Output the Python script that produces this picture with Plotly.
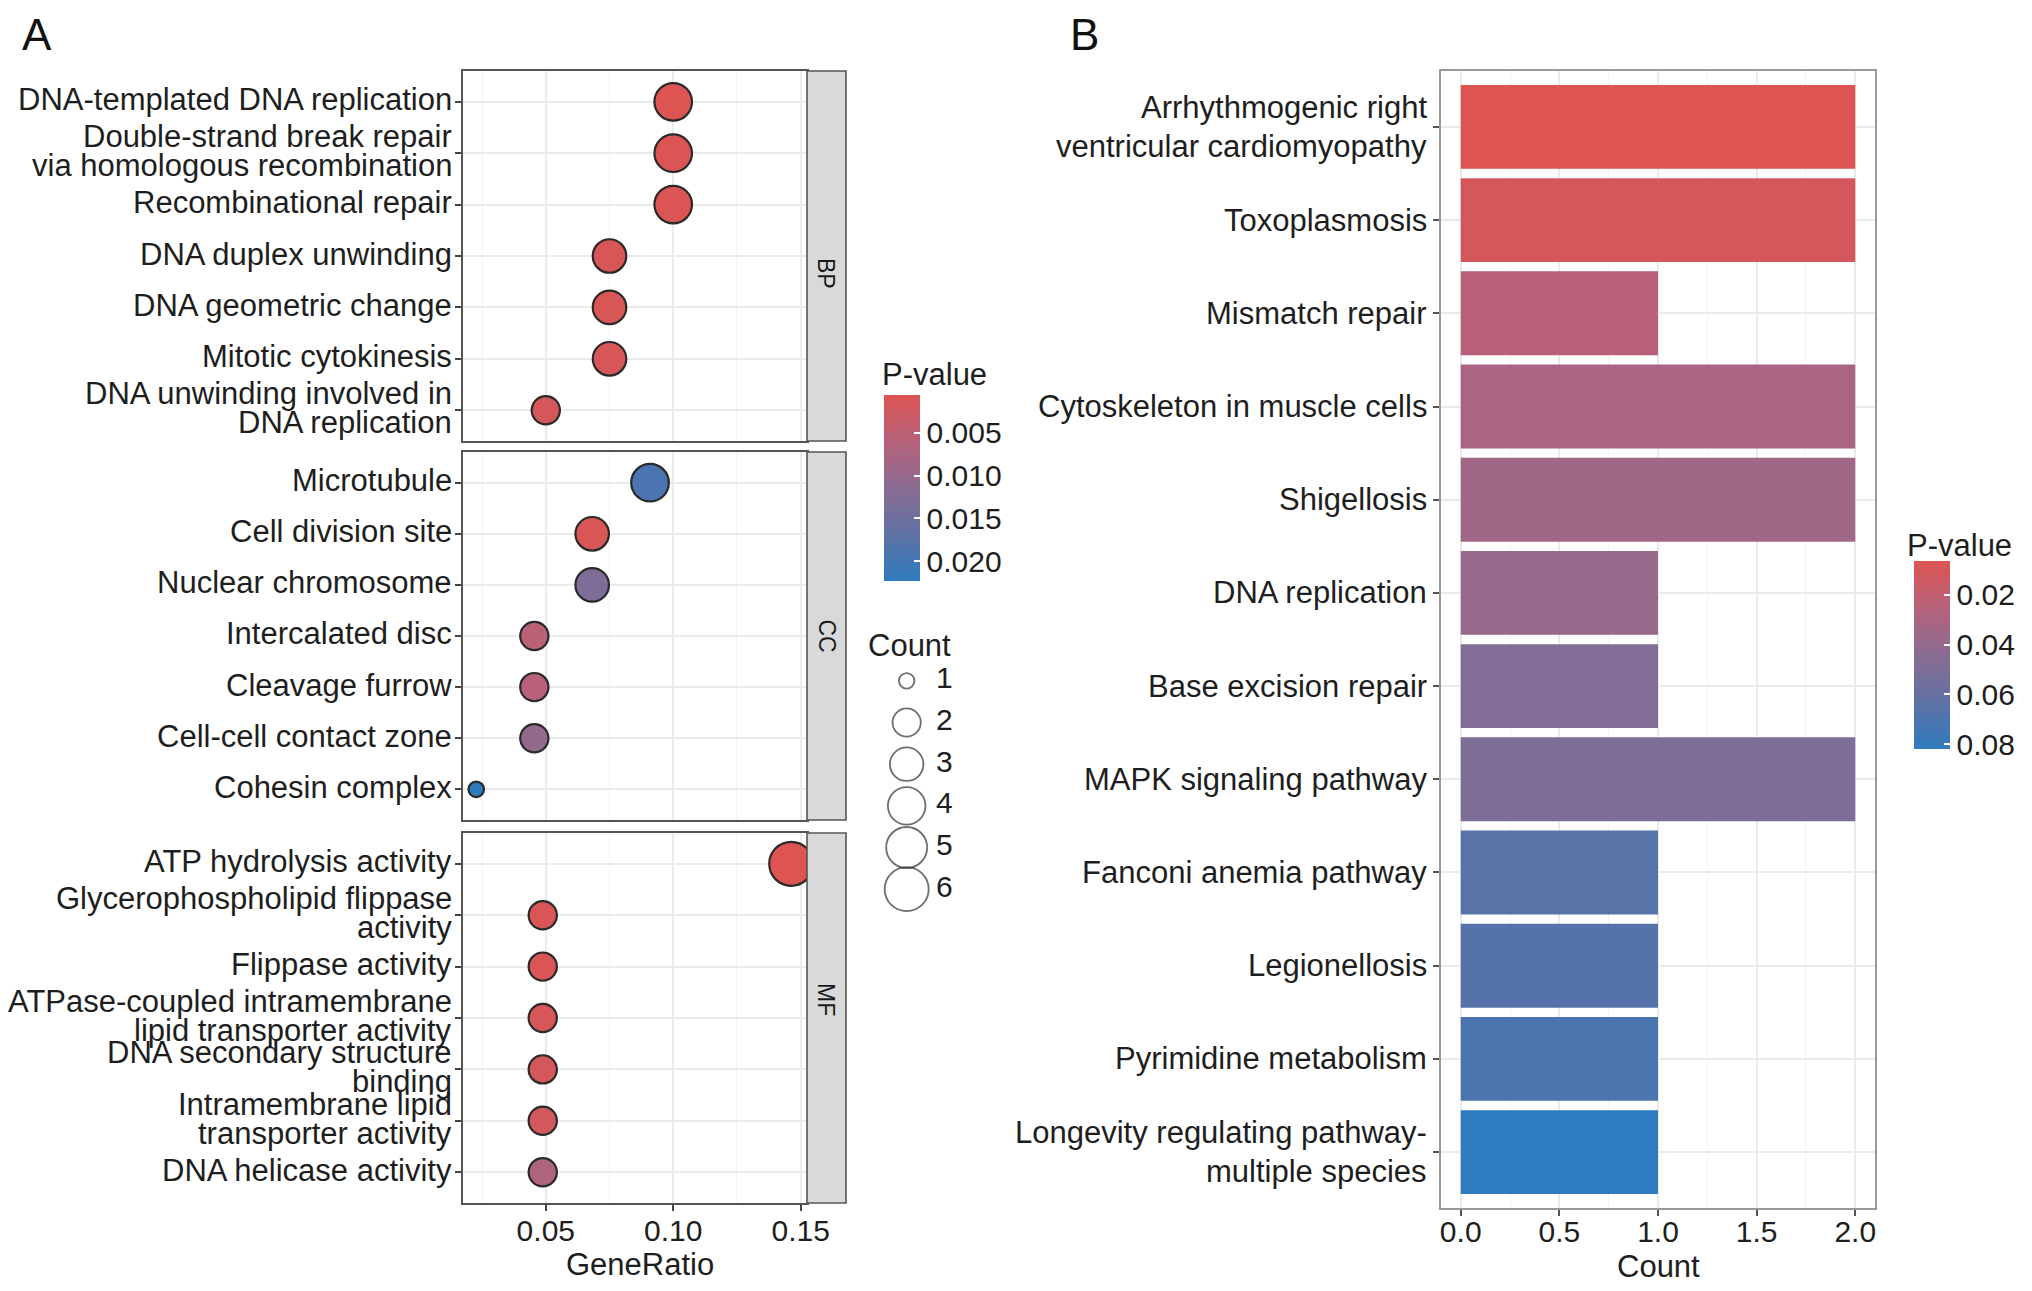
import math
import plotly.graph_objects as go

W, H = 2032, 1291
OFF = 8  # default page body margin
FW, FH = W - 2 * OFF, H - 2 * OFF

# ---------------- data: panel A (GO) ----------------
bp_terms = ["DNA-templated DNA replication",
            "Double-strand break repair<br>via homologous recombination",
            "Recombinational repair", "DNA duplex unwinding", "DNA geometric change",
            "Mitotic cytokinesis", "DNA unwinding involved in<br>DNA replication"]
bp_ratio = [0.100, 0.100, 0.100, 0.075, 0.075, 0.075, 0.050]
bp_count = [4, 4, 4, 3, 3, 3, 2]
bp_pval = [0.0008, 0.0009, 0.0009, 0.0011, 0.0012, 0.0013, 0.0016]

cc_terms = ["Microtubule", "Cell division site", "Nuclear chromosome", "Intercalated disc",
            "Cleavage furrow", "Cell-cell contact zone", "Cohesin complex"]
cc_ratio = [0.0909, 0.0682, 0.0682, 0.0455, 0.0455, 0.0455, 0.0227]
cc_count = [4, 3, 3, 2, 2, 2, 1]
cc_pval = [0.0192, 0.0012, 0.0130, 0.0055, 0.0058, 0.0105, 0.0223]

mf_terms = ["ATP hydrolysis activity", "Glycerophospholipid flippase<br>activity",
            "Flippase activity", "ATPase-coupled intramembrane<br>lipid transporter activity",
            "DNA secondary structure<br>binding", "Intramembrane lipid<br>transporter activity",
            "DNA helicase activity"]
mf_ratio = [0.1463, 0.0488, 0.0488, 0.0488, 0.0488, 0.0488, 0.0488]
mf_count = [6, 2, 2, 2, 2, 2, 2]
mf_pval = [0.0006, 0.0010, 0.0011, 0.0014, 0.0018, 0.0020, 0.0070]

ont_labels = ["BP", "CC", "MF"]
a_pval_range = [0.0006, 0.0223]
a_pval_ticks = [0.005, 0.010, 0.015, 0.020]
a_x_ticks = [0.05, 0.10, 0.15]
legend_counts = [1, 2, 3, 4, 5, 6]

# ---------------- data: panel B (KEGG) ----------------
kegg_terms = ["Arrhythmogenic right<br>ventricular cardiomyopathy", "Toxoplasmosis",
              "Mismatch repair", "Cytoskeleton in muscle cells", "Shigellosis",
              "DNA replication", "Base excision repair", "MAPK signaling pathway",
              "Fanconi anemia pathway", "Legionellosis", "Pyrimidine metabolism",
              "Longevity regulating pathway-<br>multiple species"]
kegg_count = [2, 2, 1, 2, 2, 1, 1, 2, 1, 1, 1, 1]
kegg_pval = [0.0064, 0.0110, 0.0245, 0.0310, 0.0345, 0.0380, 0.0480, 0.0500,
             0.0660, 0.0670, 0.0710, 0.0820]
b_pval_range = [0.0064, 0.0820]
b_pval_ticks = [0.02, 0.04, 0.06, 0.08]
b_x_ticks = [0.0, 0.5, 1.0, 1.5, 2.0]

# ---------------- style ----------------
FONT = "Liberation Sans, Arial, Helvetica, sans-serif"
TXT = "#1E1E1E"
FS = 30
LFS = 31
CSCALE = [[0.0, "#2F7BBF"], [0.25, "#5F71A4"], [0.5, "#8A6C92"],
          [0.75, "#B6627A"], [1.0, "#DD5452"]]


def px_x(p):
    return (p - OFF) / FW


def px_y(p):
    return 1 - (p - OFF) / FH


def size_px(c):
    # ggplot-like area scale, range 1..6
    s = 1 + 5 * math.sqrt((c - 1) / 5)
    return 9.8 + 5.7 * s


fig = go.Figure()


def term_labels(terms, yref, xpx, line_step, dy=0):
    for j, t in enumerate(terms):
        lines = t.split("<br>")
        k = len(lines)
        for m, ln in enumerate(lines):
            fig.add_annotation(
                x=px_x(xpx), xref="paper", y=j, yref=yref, text=ln,
                showarrow=False, xanchor="right", yanchor="middle",
                yshift=((k - 1) / 2 - m) * line_step + dy,
                font=dict(family=FONT, size=LFS, color=TXT))


# panel A geometry (pixels)
A_X0, A_X1, STRIP_X1 = 463, 807, 846
A_ROWS = [(71, 441), (452, 820), (833, 1203)]
A_XRANGE = [0.0175, 0.1525]

panels = [(bp_terms, bp_ratio, bp_count, bp_pval),
          (cc_terms, cc_ratio, cc_count, cc_pval),
          (mf_terms, mf_ratio, mf_count, mf_pval)]

for i, (terms, ratio, count, pval) in enumerate(panels):
    ax = "" if i == 0 else str(i + 1)
    fig.add_trace(go.Scatter(
        x=ratio, y=list(range(len(terms))), mode="markers",
        xaxis="x" + ax, yaxis="y" + ax, showlegend=False, text=terms,
        marker=dict(size=[size_px(c) for c in count], opacity=1,
                    color=[-p for p in pval], colorscale=CSCALE,
                    cmin=-a_pval_range[1], cmax=-a_pval_range[0],
                    line=dict(color="#2A2A2A", width=2.2),
                    showscale=(i == 0),
                    colorbar=dict(
                        x=px_x(884), xanchor="left", xpad=0,
                        y=px_y((395 + 581) / 2), yanchor="middle", ypad=0,
                        len=186, lenmode="pixels", thickness=36,
                        outlinewidth=0,
                        tickvals=[-t for t in a_pval_ticks],
                        ticktext=["%.3f" % t for t in a_pval_ticks],
                        ticks="inside", ticklen=6, tickcolor="white", tickwidth=1.5,
                        tickfont=dict(family=FONT, size=FS, color=TXT),
                    ))))
    y0, y1 = A_ROWS[i]
    n = len(terms)
    last = (i == 2)
    fig.layout["xaxis" + ax] = dict(
        domain=[px_x(A_X0), px_x(A_X1)], range=A_XRANGE, anchor="y" + ax,
        tickvals=a_x_ticks, ticktext=["%.2f" % t for t in a_x_ticks],
        showticklabels=last, ticks="outside" if last else "",
        ticklen=6, tickwidth=1.5, tickcolor="#444444", ticklabelstandoff=-6,
        tickfont=dict(family=FONT, size=FS, color=TXT),
        showgrid=True, gridcolor="#EBEBEB", gridwidth=1.6,
        minor=dict(tickvals=[0.025, 0.075, 0.125], showgrid=True,
                   gridcolor="#F3F3F3", gridwidth=1),
        showline=True, mirror=True, linecolor="#555555", linewidth=1.6,
        zeroline=False, fixedrange=True)
    fig.layout["yaxis" + ax] = dict(
        domain=[px_y(y1), px_y(y0)], anchor="x" + ax,
        range=[n - 0.4, -0.6], tickvals=list(range(n)), showticklabels=False,
        ticks="outside", ticklen=6, tickwidth=1.5, tickcolor="#444444",
        showgrid=True, gridcolor="#EBEBEB", gridwidth=1.6,
        showline=True, mirror=True, linecolor="#555555", linewidth=1.6,
        zeroline=False, fixedrange=True)
    term_labels(terms, "y" + ax, A_X0 - 9, 29, dy=2)
    # facet strip
    fig.add_shape(type="rect", xref="paper", yref="paper",
                  x0=px_x(A_X1), x1=px_x(STRIP_X1), y0=px_y(y1), y1=px_y(y0),
                  fillcolor="#D9D9D9", line=dict(color="#555555", width=1.6))
    fig.add_annotation(x=px_x((A_X1 + STRIP_X1) / 2), y=px_y((y0 + y1) / 2),
                       xref="paper", yref="paper", text=ont_labels[i],
                       textangle=90, showarrow=False,
                       font=dict(family=FONT, size=23, color="#1A1A1A"))

# Count size legend (own small axis)
fig.add_trace(go.Scatter(
    x=[0.15] * len(legend_counts), y=legend_counts, mode="markers", cliponaxis=False,
    xaxis="x5", yaxis="y5", showlegend=False, hoverinfo="skip",
    marker=dict(size=[size_px(c) for c in legend_counts], color="rgba(0,0,0,0)",
                line=dict(color="#333333", width=1.8))))
fig.add_trace(go.Scatter(
    x=[1.25] * len(legend_counts), y=legend_counts, mode="text", cliponaxis=False,
    text=[str(c) for c in legend_counts], textposition="middle right",
    xaxis="x5", yaxis="y5", showlegend=False, hoverinfo="skip",
    textfont=dict(family=FONT, size=FS, color=TXT)))
fig.layout["xaxis5"] = dict(domain=[px_x(876), px_x(956)], range=[-1, 2],
                            anchor="y5", visible=False, fixedrange=True)
fig.layout["yaxis5"] = dict(domain=[px_y(910), px_y(660)], range=[6.5, 0.5],
                            anchor="x5", visible=False, fixedrange=True)

# ---------------- panel B ----------------
B_X0, B_X1, B_Y0, B_Y1 = 1441, 1875, 71, 1208
nb = len(kegg_terms)
fig.add_trace(go.Bar(
    x=kegg_count, y=list(range(nb)), orientation="h", xaxis="x4", yaxis="y4",
    showlegend=False, text=kegg_terms, textposition="none",
    marker=dict(color=[-p for p in kegg_pval], colorscale=CSCALE,
                cmin=-b_pval_range[1], cmax=-b_pval_range[0], line=dict(width=0),
                showscale=True,
                colorbar=dict(
                    x=px_x(1914), xanchor="left", xpad=0,
                    y=px_y((561 + 749) / 2), yanchor="middle", ypad=0,
                    len=188, lenmode="pixels", thickness=36, outlinewidth=0,
                    tickvals=[-t for t in b_pval_ticks],
                    ticktext=["%.2f" % t for t in b_pval_ticks],
                    ticks="inside", ticklen=6, tickcolor="white", tickwidth=1.5,
                    tickfont=dict(family=FONT, size=FS, color=TXT),
                ))))
fig.layout["xaxis4"] = dict(
    domain=[px_x(B_X0), px_x(B_X1)], range=[-0.1, 2.1], anchor="y4",
    tickvals=b_x_ticks, ticktext=["%.1f" % t for t in b_x_ticks],
    ticks="outside", ticklen=6, tickwidth=1.5, tickcolor="#555555",
    ticklabelstandoff=-10,
    tickfont=dict(family=FONT, size=FS, color=TXT),
    showgrid=True, gridcolor="#EBEBEB", gridwidth=1.6,
    minor=dict(tickvals=[0.25, 0.75, 1.25, 1.75], showgrid=True,
               gridcolor="#F3F3F3", gridwidth=1),
    showline=True, mirror=True, linecolor="#999999", linewidth=1.6,
    zeroline=False, fixedrange=True)
fig.layout["yaxis4"] = dict(
    domain=[px_y(B_Y1), px_y(B_Y0)], anchor="x4",
    range=[nb - 0.4, -0.6], tickvals=list(range(nb)), showticklabels=False,
    ticks="outside", ticklen=6, tickwidth=1.5, tickcolor="#555555",
    showgrid=True, gridcolor="#EBEBEB", gridwidth=1.6,
    showline=True, mirror=True, linecolor="#999999", linewidth=1.6,
    zeroline=False, fixedrange=True)
term_labels(kegg_terms, "y4", B_X0 - 12, 39)

# ---------------- titles / labels ----------------
def ann(text, x, y, size=FS, xanchor="center", color=TXT, yanchor="middle"):
    fig.add_annotation(x=px_x(x), y=px_y(y), xref="paper", yref="paper",
                       text=text, showarrow=False, xanchor=xanchor,
                       yanchor=yanchor, font=dict(family=FONT, size=size, color=color))

ann("GeneRatio", 640, 1264, size=31)
ann("Count", 1658, 1266, size=31)
ann("P-value", 880, 374, size=31, xanchor="left")
ann("P-value", 1905, 546, size=31, xanchor="left")
ann("Count", 866, 645, size=31, xanchor="left")
ann("A", 20, OFF, size=44, xanchor="left", color="#111111", yanchor="top")
ann("B", 1068, OFF, size=44, xanchor="left", color="#111111", yanchor="top")

fig.update_layout(
    width=FW, height=FH, margin=dict(l=0, r=0, t=0, b=0),
    paper_bgcolor="white", plot_bgcolor="white", template="none",
    bargap=0.1, showlegend=False,
    font=dict(family=FONT, size=FS, color=TXT))

fig.write_html("out.html")
